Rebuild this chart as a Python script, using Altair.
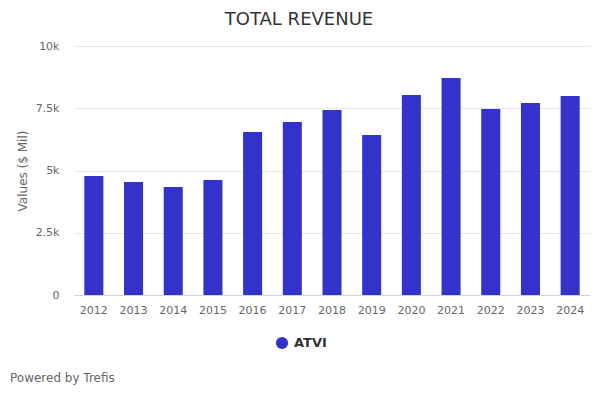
import altair as alt
import pandas as pd

years = ["2012", "2013", "2014", "2015", "2016", "2017", "2018",
         "2019", "2020", "2021", "2022", "2023", "2024"]
revenue = [4779, 4538, 4337, 4618, 6546, 6948, 7430,
           6426, 8032, 8715, 7470, 7711, 7992]
series = ["ATVI"] * len(years)

df = pd.DataFrame({"Year": years, "Revenue": revenue, "Series": series})

FONT = "DejaVu Sans"

bars = alt.Chart(df).mark_bar(color="#3333cc").encode(
    x=alt.X("Year:N", sort=years, title=None,
            scale=alt.Scale(paddingInner=0.52, paddingOuter=0.26),
            axis=alt.Axis(labelAngle=0, ticks=False, domainColor="#ccd6eb",
                          labelColor="#666666", labelFontSize=11, labelPadding=9,
                          labelFont=FONT)),
    y=alt.Y("Revenue:Q", title="Values ($ Mil)",
            scale=alt.Scale(domain=[0, 10000], nice=False),
            axis=alt.Axis(values=[0, 2500, 5000, 7500, 10000],
                          labelExpr="datum.value == 0 ? '0' : format(datum.value/1000, '') + 'k'",
                          ticks=False, domain=False, gridColor="#e6e6e6",
                          labelColor="#666666", labelFontSize=11, labelPadding=15,
                          labelFont=FONT, titleColor="#666666", titleFontSize=12,
                          titleFontWeight="normal", titleFont=FONT, titlePadding=6)),
    color=alt.Color("Series:N", scale=alt.Scale(domain=["ATVI"], range=["#3333cc"]),
                    legend=alt.Legend(title=None, orient="none", legendX=201, legendY=290,
                                      symbolType="circle", symbolSize=150,
                                      labelFontSize=13, labelFontWeight="bold",
                                      labelColor="#333333", labelFont=FONT, labelOffset=5)),
)

credit = alt.Chart(pd.DataFrame({"t": ["Powered by Trefis"]})).mark_text(
    align="left", baseline="middle", fontSize=12, color="#666666", font=FONT
).encode(text="t:N", x=alt.value(-64), y=alt.value(332))

chart = alt.layer(bars, credit).properties(
    width=516, height=249,
    padding={"left": 66, "top": 38, "right": 2, "bottom": 95},
    autosize=alt.AutoSizeParams(type="none"),
    title=alt.Title("TOTAL REVENUE", fontSize=18, font=FONT, fontWeight="normal",
                    color="#333333", anchor="middle", dx=-33, offset=11),
).configure_view(stroke=None)

chart.save("out.html", embed_options={"renderer": "svg", "actions": False})
